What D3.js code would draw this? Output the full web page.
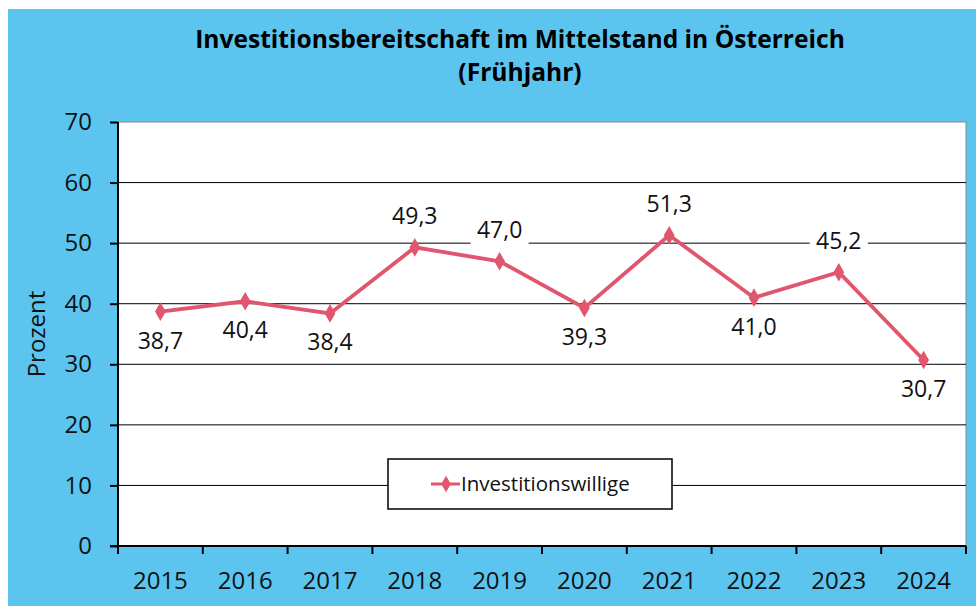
<!DOCTYPE html>
<html>
<head>
<meta charset="utf-8">
<script src="https://cdn.jsdelivr.net/npm/d3@7"></script>
<style>
  body { margin: 0; background: #fff; }
  text { font-family: "Open Sans", sans-serif; }
</style>
</head>
<body>
<script>
const years = ['2015', '2016', '2017', '2018', '2019', '2020', '2021', '2022', '2023', '2024'];
const values = [38.7, 40.4, 38.4, 49.3, 47.0, 39.3, 51.3, 41.0, 45.2, 30.7];
const labelAbove = [false, false, false, true, true, false, true, false, true, false];
const yTicks = [0, 10, 20, 30, 40, 50, 60, 70];
const seriesName = 'Investitionswillige';

const width = 976;
const height = 606;
const margin = { top: 122, right: 10, bottom: 60, left: 118 };
const lineColor = '#E0566E';

const svg = d3.select('body').append('svg')
    .attr('width', width)
    .attr('height', height);

svg.append('rect')
    .attr('x', 8).attr('y', 9)
    .attr('width', width - 8).attr('height', height - 9)
    .attr('fill', '#5BC5F0');

const xScale = d3.scaleBand()
    .domain(years)
    .range([margin.left, width - margin.right]);
const yScale = d3.scaleLinear()
    .domain([0, 70])
    .range([height - margin.bottom, margin.top]);

// plot area
svg.append('rect')
    .attr('x', margin.left).attr('y', margin.top)
    .attr('width', width - margin.right - margin.left)
    .attr('height', yScale(0) - margin.top)
    .attr('fill', '#fff')
    .attr('stroke', '#888');

// gridlines
svg.append('g')
    .selectAll('line').data(yTicks.slice(1, -1))
    .enter().append('line')
    .attr('x1', margin.left).attr('x2', width - margin.right)
    .attr('y1', d => yScale(d)).attr('y2', d => yScale(d))
    .attr('stroke', '#000').attr('stroke-width', 1);

// title
const title = svg.append('text')
    .attr('x', 520).attr('text-anchor', 'middle')
    .attr('font-weight', 'bold').attr('font-size', 24.6);
title.append('tspan').attr('x', 520).attr('y', 48).text('Investitionsbereitschaft im Mittelstand in Österreich');
title.append('tspan').attr('x', 520).attr('y', 81).text('(Frühjahr)');

// y axis
const yAxis = d3.axisLeft(yScale).tickValues(yTicks).tickSize(8).tickPadding(18);
const yg = svg.append('g')
    .attr('transform', `translate(${margin.left}, 0)`)
    .call(yAxis);
yg.select('.domain').attr('stroke', '#000').attr('stroke-width', 2).attr('d', `M0,${yScale(70)}V${yScale(0)}`);
yg.selectAll('.tick line').attr('stroke-width', 2);
yg.selectAll('text').attr('font-size', 24).attr('fill', '#111').attr('font-family', 'Open Sans');

svg.append('text')
    .attr('transform', `translate(45, ${(yScale(0) + yScale(70)) / 2}) rotate(-90)`)
    .attr('text-anchor', 'middle')
    .attr('font-size', 24).attr('fill', '#111')
    .text('Prozent');

// x axis
const xg = svg.append('g')
    .attr('transform', `translate(0, ${yScale(0)})`);
xg.append('line')
    .attr('x1', margin.left - 8).attr('x2', width - margin.right)
    .attr('stroke', '#000').attr('stroke-width', 2);
const bounds = years.map(y => xScale(y)).concat([xScale.range()[1]]);
xg.selectAll('.xtick').data(bounds)
    .enter().append('line')
    .attr('x1', d => d).attr('x2', d => d)
    .attr('y1', 0).attr('y2', 8)
    .attr('stroke', '#000').attr('stroke-width', 2);
xg.selectAll('.xlabel').data(years)
    .enter().append('text')
    .attr('x', d => xScale(d) + xScale.bandwidth() / 2)
    .attr('y', 43)
    .attr('text-anchor', 'middle')
    .attr('font-size', 24).attr('fill', '#111')
    .text(d => d);

// legend
const legend = svg.append('g');
legend.append('rect')
    .attr('x', 388).attr('y', 459).attr('width', 284).attr('height', 50)
    .attr('fill', '#fff').attr('stroke', '#000').attr('stroke-width', 1.5);
legend.append('line')
    .attr('x1', 431).attr('x2', 460).attr('y1', 484).attr('y2', 484)
    .attr('stroke', lineColor).attr('stroke-width', 3);
legend.append('path')
    .attr('d', d3.symbol(d3.symbolDiamond, 80)())
    .attr('transform', 'translate(446,484)')
    .attr('fill', lineColor);
legend.append('text')
    .attr('x', 461).attr('y', 491)
    .attr('font-size', 20.5).attr('fill', '#111')
    .text(seriesName);

// line
const cx = (d, i) => xScale(years[i]) + xScale.bandwidth() / 2;
const line = d3.line().x(cx).y(d => yScale(d));
svg.append('path')
    .datum(values)
    .attr('d', line)
    .attr('fill', 'none')
    .attr('stroke', lineColor).attr('stroke-width', 3.8);
svg.selectAll('.marker').data(values)
    .enter().append('path')
    .attr('d', d3.symbol(d3.symbolDiamond, 100)())
    .attr('transform', (d, i) => `translate(${cx(d, i)}, ${yScale(d)})`)
    .attr('fill', lineColor);

// data labels
const fmt = d => d.toFixed(1).replace('.', ',');
const labels = svg.selectAll('.dl').data(values)
    .enter().append('g')
    .attr('transform', (d, i) => `translate(${cx(d, i)}, ${yScale(d) + (labelAbove[i] ? -31 : 29)})`);
labels.append('rect')
    .attr('x', -29).attr('y', -15).attr('width', 58).attr('height', 30)
    .attr('fill', '#fff');
labels.append('text')
    .attr('text-anchor', 'middle')
    .attr('dy', '0.35em')
    .attr('font-size', 23).attr('fill', '#111')
    .text(fmt);
</script>
</body>
</html>
